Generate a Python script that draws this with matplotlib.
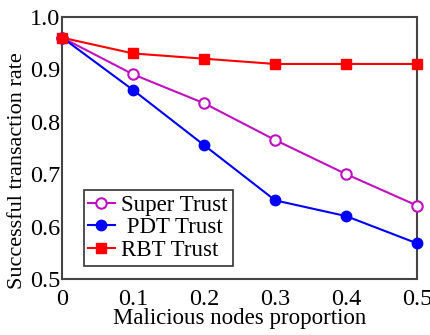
import matplotlib
matplotlib.use("Agg")
import matplotlib.pyplot as plt

# data
proportion = [0, 0.1, 0.2, 0.3, 0.4, 0.5]
super_trust = [0.96, 0.89, 0.835, 0.765, 0.70, 0.64]
pdt_trust = [0.96, 0.86, 0.755, 0.65, 0.62, 0.568]
rbt_trust = [0.96, 0.93, 0.92, 0.91, 0.91, 0.91]

plt.rcParams['font.family'] = ['Liberation Serif', 'DejaVu Serif']

fig, ax = plt.subplots(figsize=(4.3, 3.35), dpi=100)
fig.subplots_adjust(left=0.145, right=0.97, bottom=0.167, top=0.95)

ax.plot(proportion, super_trust, color='#c010c0', marker='o', markersize=7.5,
        markerfacecolor='white', markeredgewidth=1.5, linewidth=1.5,
        label='Super Trust', clip_on=False, zorder=3)
ax.plot(proportion, pdt_trust, color='blue', marker='o', markersize=7.5,
        linewidth=1.5, label=' PDT Trust', clip_on=False, zorder=3)
ax.plot(proportion, rbt_trust, color='red', marker='s', markersize=7.5,
        linewidth=1.5, label='RBT Trust', clip_on=False, zorder=3)

ax.set_xlim(0, 0.5)
ax.set_ylim(0.5, 1.0)
ax.set_xticks(proportion)
ax.set_xticklabels(['0', '0.1', '0.2', '0.3', '0.4', '0.5'])
ax.set_yticks([0.5, 0.6, 0.7, 0.8, 0.9, 1.0])
ax.set_yticklabels(['0.5', '0.6', '0.7', '0.8', '0.9', '1.0'])
ax.tick_params(length=0, labelsize=17.5)
ax.tick_params(axis='x', pad=7)
ax.tick_params(axis='y', pad=1.5)

for side in ax.spines.values():
    side.set_color('#444444')
    side.set_linewidth(1.5)

ax.set_xlabel('Malicious nodes proportion', fontsize=16.5, labelpad=-1)
ax.set_ylabel('Successful transaction rate', fontsize=16)
ax.yaxis.set_label_coords(-0.10, 0.415)

leg = ax.legend(loc='lower left', bbox_to_anchor=(0.06, 0.05), fontsize=16.5,
                frameon=True, fancybox=False, edgecolor='black',
                borderpad=0.2, labelspacing=0.08, handlelength=1.15,
                handletextpad=0.3, borderaxespad=0)
leg.get_frame().set_linewidth(1.2)

fig.savefig('out.png', dpi=100)
